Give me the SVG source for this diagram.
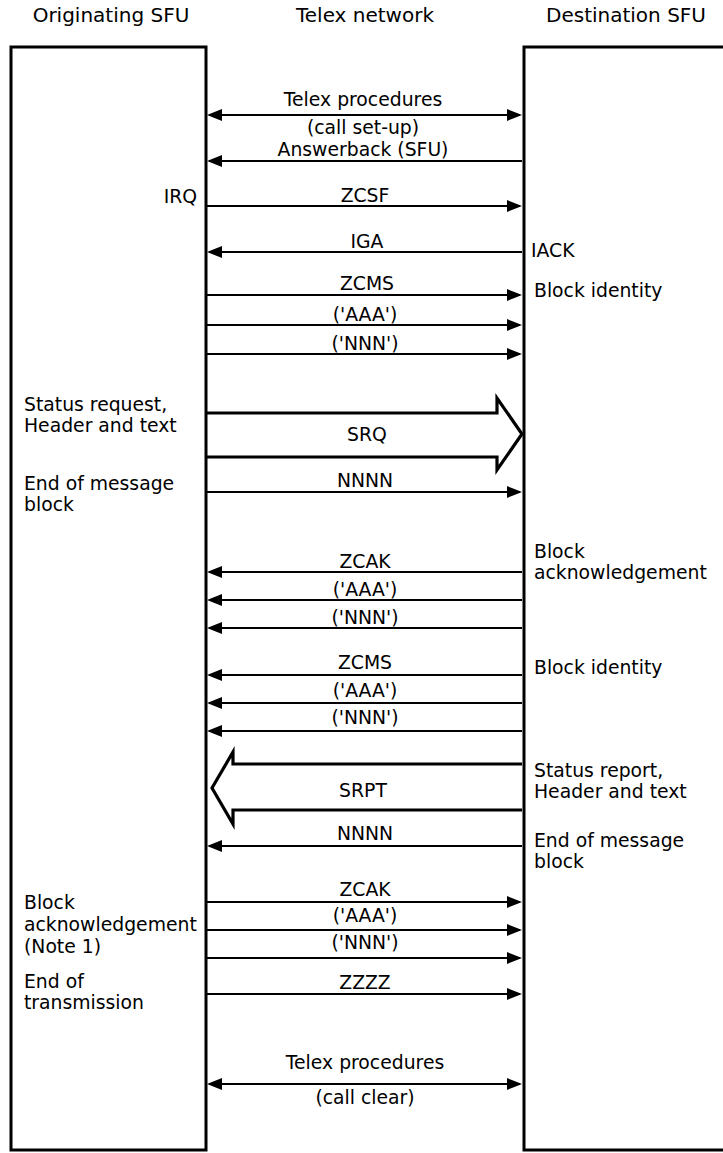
<svg xmlns="http://www.w3.org/2000/svg" width="723" height="1153" viewBox="0 0 723 1153">
<style>
text{font-family:"DejaVu Sans","Liberation Sans",sans-serif;font-size:18.8px;fill:#000}
.hd{font-size:20px}
.c{text-anchor:middle}
.box{fill:#fff;stroke:#000;stroke-width:3}
.m{stroke:#000;stroke-width:2;fill:none}
.big{stroke:#000;stroke-width:3.2;fill:none;stroke-linejoin:miter}
</style>
<defs>
<marker id="ah" viewBox="0 0 15 12" refX="13" refY="6" markerWidth="15" markerHeight="12" markerUnits="userSpaceOnUse" orient="auto-start-reverse">
<path d="M0,0 L15,6 L0,12 z" fill="#000"/>
</marker>
</defs>
<rect width="723" height="1153" fill="#fff"/>

<g id="originating-sfu">
<text class="hd c" x="111" y="22">Originating SFU</text>
<rect class="box" x="11" y="47" width="195" height="1103"/>
<text x="197" y="203" text-anchor="end">IRQ</text>
<text x="24" y="411">Status request,</text>
<text x="24" y="432">Header and text</text>
<text x="24" y="490">End of message</text>
<text x="24" y="511">block</text>
<text x="24" y="909">Block</text>
<text x="24" y="931">acknowledgement</text>
<text x="24" y="953">(Note 1)</text>
<text x="24" y="988">End of</text>
<text x="24" y="1009">transmission</text>
</g>

<g id="telex-network">
<text class="hd c" x="365" y="22">Telex network</text>
</g>

<g id="destination-sfu">
<text class="hd c" x="626" y="22">Destination SFU</text>
<rect class="box" x="524" y="47" width="220" height="1103"/>
<text x="531" y="257">IACK</text>
<text x="534" y="297">Block identity</text>
<text x="534" y="558">Block</text>
<text x="534" y="579">acknowledgement</text>
<text x="534" y="674">Block identity</text>
<text x="534" y="777">Status report,</text>
<text x="534" y="798">Header and text</text>
<text x="534" y="847">End of message</text>
<text x="534" y="868">block</text>
</g>

<g id="connectors">
<line class="m" x1="209" y1="115" x2="520" y2="115" marker-start="url(#ah)" marker-end="url(#ah)"/>
<text class="c" x="363" y="106">Telex procedures</text>
<text class="c" x="363" y="134">(call set-up)</text>
<line class="m" x1="522" y1="161" x2="209" y2="161" marker-end="url(#ah)"/>
<text class="c" x="363" y="156">Answerback (SFU)</text>
<line class="m" x1="207" y1="206" x2="520" y2="206" marker-end="url(#ah)"/>
<text class="c" x="365" y="202">ZCSF</text>
<line class="m" x1="522" y1="252" x2="209" y2="252" marker-end="url(#ah)"/>
<text class="c" x="367" y="248">IGA</text>
<line class="m" x1="207" y1="295" x2="520" y2="295" marker-end="url(#ah)"/>
<text class="c" x="367" y="290">ZCMS</text>
<line class="m" x1="207" y1="325" x2="520" y2="325" marker-end="url(#ah)"/>
<text class="c" x="365" y="321">('AAA')</text>
<line class="m" x1="207" y1="354" x2="520" y2="354" marker-end="url(#ah)"/>
<text class="c" x="365" y="350">('NNN')</text>

<polyline class="big" points="207,413 497,413 497,398 522,434 497,470 497,457 207,457"/>
<text class="c" x="367" y="441">SRQ</text>

<line class="m" x1="207" y1="492" x2="520" y2="492" marker-end="url(#ah)"/>
<text class="c" x="365" y="487">NNNN</text>

<line class="m" x1="522" y1="572" x2="209" y2="572" marker-end="url(#ah)"/>
<text class="c" x="365" y="568">ZCAK</text>
<line class="m" x1="522" y1="600" x2="209" y2="600" marker-end="url(#ah)"/>
<text class="c" x="365" y="596">('AAA')</text>
<line class="m" x1="522" y1="628" x2="209" y2="628" marker-end="url(#ah)"/>
<text class="c" x="365" y="624">('NNN')</text>

<line class="m" x1="522" y1="675" x2="209" y2="675" marker-end="url(#ah)"/>
<text class="c" x="365" y="669">ZCMS</text>
<line class="m" x1="522" y1="703" x2="209" y2="703" marker-end="url(#ah)"/>
<text class="c" x="365" y="697">('AAA')</text>
<line class="m" x1="522" y1="731" x2="209" y2="731" marker-end="url(#ah)"/>
<text class="c" x="365" y="724">('NNN')</text>

<polyline class="big" points="522,764 233,764 233,752 212,788 233,824 233,810 522,810"/>
<text class="c" x="363" y="797">SRPT</text>

<line class="m" x1="522" y1="846" x2="209" y2="846" marker-end="url(#ah)"/>
<text class="c" x="365" y="840">NNNN</text>

<line class="m" x1="207" y1="902" x2="520" y2="902" marker-end="url(#ah)"/>
<text class="c" x="365" y="896">ZCAK</text>
<line class="m" x1="207" y1="930" x2="520" y2="930" marker-end="url(#ah)"/>
<text class="c" x="365" y="922">('AAA')</text>
<line class="m" x1="207" y1="958" x2="520" y2="958" marker-end="url(#ah)"/>
<text class="c" x="365" y="949">('NNN')</text>

<line class="m" x1="207" y1="994" x2="520" y2="994" marker-end="url(#ah)"/>
<text class="c" x="365" y="989">ZZZZ</text>

<line class="m" x1="209" y1="1084" x2="520" y2="1084" marker-start="url(#ah)" marker-end="url(#ah)"/>
<text class="c" x="365" y="1069">Telex procedures</text>
<text class="c" x="365" y="1104">(call clear)</text>
</g>
</svg>
